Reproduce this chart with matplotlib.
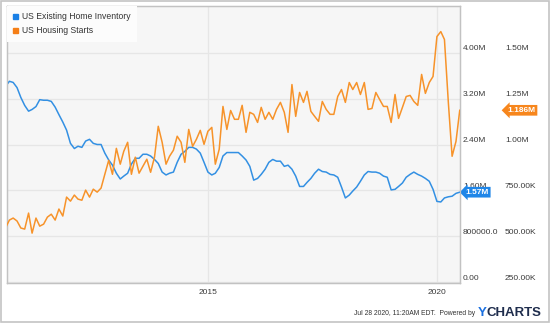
import matplotlib
matplotlib.use("Agg")
import matplotlib.pyplot as plt
import matplotlib.patches as mpatches
from matplotlib.transforms import blended_transform_factory, ScaledTranslation
import pandas as pd

plt.rcParams['font.family'] = ['Liberation Sans', 'DejaVu Sans']

# Monthly observations, Jul 2010 - Jun 2020 (month-end dates)
dates = pd.date_range('2010-07-31', periods=120, freq='ME')

# US Existing Home Inventory, millions of units
inventory_m = [
    3.41, 3.50, 3.48, 3.39, 3.22, 3.08, 2.98, 3.01, 3.06, 3.18,
    3.17, 3.17, 3.15, 3.05, 2.92, 2.79, 2.65, 2.42, 2.33, 2.37,
    2.35, 2.46, 2.49, 2.42, 2.40, 2.40, 2.25, 2.13, 2.04, 1.90,
    1.80, 1.85, 1.90, 2.06, 2.16, 2.16, 2.23, 2.23, 2.20, 2.14,
    2.07, 1.92, 1.87, 1.90, 1.92, 2.09, 2.23, 2.28, 2.35, 2.35,
    2.32, 2.25, 2.09, 1.92, 1.87, 1.90, 2.00, 2.20, 2.26, 2.26,
    2.26, 2.26, 2.20, 2.13, 2.02, 1.78, 1.81, 1.88, 1.97, 2.09,
    2.14, 2.11, 2.11, 2.02, 2.04, 1.97, 1.85, 1.67, 1.67, 1.74,
    1.81, 1.90, 1.97, 1.93, 1.92, 1.88, 1.87, 1.83, 1.66, 1.47,
    1.52, 1.59, 1.66, 1.76, 1.87, 1.93, 1.92, 1.92, 1.90, 1.85,
    1.83, 1.61, 1.62, 1.67, 1.73, 1.83, 1.88, 1.92, 1.88, 1.85,
    1.81, 1.76, 1.62, 1.41, 1.40, 1.47, 1.49, 1.50, 1.55, 1.57,
]

# US Housing Starts, thousands of units (SAAR)
starts_k = [
    546, 589, 600, 584, 546, 540, 627, 518, 600, 556,
    567, 605, 621, 589, 649, 611, 714, 692, 725, 703,
    697, 752, 714, 757, 741, 763, 838, 914, 838, 979,
    893, 963, 1012, 838, 931, 844, 882, 920, 849, 931,
    1099, 1012, 893, 936, 969, 1045, 1012, 903, 1082, 990,
    1028, 1077, 1001, 1072, 1093, 893, 974, 1207, 1082, 1185,
    1137, 1137, 1213, 1066, 1175, 1164, 1120, 1202, 1137, 1175,
    1137, 1191, 1229, 1175, 1066, 1326, 1153, 1283, 1229, 1289,
    1180, 1153, 1126, 1234, 1191, 1164, 1164, 1261, 1299, 1229,
    1337, 1299, 1337, 1272, 1337, 1191, 1196, 1283, 1245, 1207,
    1207, 1120, 1272, 1142, 1202, 1261, 1267, 1234, 1213, 1381,
    1278, 1337, 1370, 1587, 1614, 1571, 1229, 936, 1017, 1186,
]

series_names = ["US Existing Home Inventory", "US Housing Starts"]
inv_ticks = [0.0, 0.8, 1.6, 2.4, 3.2, 4.0]
inv_tick_labels = ["0.00", "800000.0", "1.60M", "2.40M", "3.20M", "4.00M"]
starts_ticks = [250, 500, 750, 1000, 1250, 1500]
starts_tick_labels = ["250.00K", "500.00K", "750.00K", "1.00M", "1.25M", "1.50M"]
year_ticks = ["2015-01-01", "2020-01-01"]
year_labels = ["2015", "2020"]
inv_tag = "1.57M"
starts_tag = "1.186M"

BLUE = "#3390e3"
ORANGE = "#f7932a"
TXT = "#3a3a3a"
GRID = "#e6e6e6"

W, H = 550, 324
fig = plt.figure(figsize=(W / 100, H / 100), dpi=100)
fig.patch.set_facecolor("white")

ax = fig.add_axes([7 / W, 1 - 283 / H, 453 / W, 277 / H])
ax.set_facecolor("#f6f6f6")

ax.plot(dates, inventory_m, color=BLUE, lw=1.1, zorder=3)
ax.set_xlim(pd.Timestamp("2010-08-12"), pd.Timestamp("2020-07-02"))
ax.set_ylim(-0.01, 4.81)

ax2 = ax.twinx()
ax2.plot(dates, starts_k, color=ORANGE, lw=1.1, zorder=3)
lo, hi = ax.get_ylim()
ax2.set_ylim(250 + 312.5 * lo, 250 + 312.5 * hi)

# grid and frame
ax.set_yticks(inv_ticks)
ax.set_xticks(pd.to_datetime(year_ticks))
ax.set_xticklabels(year_labels, fontsize=6, color=TXT)
ax.tick_params(axis="x", length=0, pad=4)
ax.tick_params(axis="y", length=0, labelleft=False, labelright=False)
ax.grid(True, color=GRID, lw=0.9)
ax.set_axisbelow(True)
ax2.set_yticks([])
ax2.tick_params(length=0)
for a in (ax, ax2):
    for s in a.spines.values():
        s.set_color("#c2c2c2")
        s.set_linewidth(0.9)

# right-hand value columns
px = fig.dpi_scale_trans
inv_tr = blended_transform_factory(ax.transAxes, ax.transData)
st_tr = blended_transform_factory(ax2.transAxes, ax2.transData)
for v, lab in zip(inv_ticks, inv_tick_labels):
    ax.text(1, v, lab, transform=inv_tr + ScaledTranslation(0.03, 0.04, px),
            ha="left", va="center", fontsize=6, color=TXT, clip_on=False)
for v, lab in zip(starts_ticks, starts_tick_labels):
    ax2.text(1, v, lab, transform=st_tr + ScaledTranslation(0.45, 0.04, px),
             ha="left", va="center", fontsize=6, color=TXT, clip_on=False)

# last-value tags
ax.annotate(inv_tag, xy=(1, inventory_m[-1]), xycoords=inv_tr,
            xytext=(5.5, 0), textcoords="offset pixels", ha="left", va="center",
            fontsize=6, fontweight="bold", color="white", zorder=10,
            annotation_clip=False,
            bbox=dict(boxstyle="larrow,pad=0.22", fc="#1f86e8", ec="none"))
ax2.annotate(starts_tag, xy=(1, starts_k[-1]), xycoords=st_tr,
             xytext=(47.5, 0), textcoords="offset pixels", ha="left", va="center",
             fontsize=6, fontweight="bold", color="white", zorder=10,
             annotation_clip=False,
             bbox=dict(boxstyle="larrow,pad=0.22", fc="#f7861c", ec="none"))

# legend
handles = [mpatches.Patch(color="#1a80e6", label=series_names[0]),
           mpatches.Patch(color="#f57f17", label=series_names[1])]
leg = ax2.legend(handles=handles, loc="upper left", bbox_to_anchor=(0, 1),
                 borderaxespad=0, frameon=True, fancybox=False,
                 facecolor="#fcfcfc", edgecolor="none", framealpha=1,
                 fontsize=6.2, handlelength=0.55, handleheight=0.55,
                 handletextpad=0.45, borderpad=0.75, labelspacing=0.55)
for t in leg.get_texts():
    t.set_color("#333333")

# footer
fig.text(475 / W, 1 - 313.5 / H, "Jul 28 2020, 11:20AM EDT.  Powered by",
         ha="right", va="center", fontsize=4.9, color="#333333")
logo_y = fig.text(478 / W, 1 - 313 / H, "Y", ha="left", va="center",
                  fontsize=9.5, fontweight="bold", color="#1a6fe0")
fig.add_artist(plt.Annotation("CHARTS", xy=(1.0, 0.5), xycoords=logo_y,
                              va="center", ha="left", fontsize=9.5,
                              fontweight="bold", color="#1f2d4d"))

# outer frame
fig.patches.append(mpatches.Rectangle((0.5 / W, 2.5 / H), 548 / W, 321 / H,
                                      transform=fig.transFigure, fill=False,
                                      ec="#c4c4c4", lw=1.2))

fig.savefig("out.png", dpi=100, facecolor="white")
